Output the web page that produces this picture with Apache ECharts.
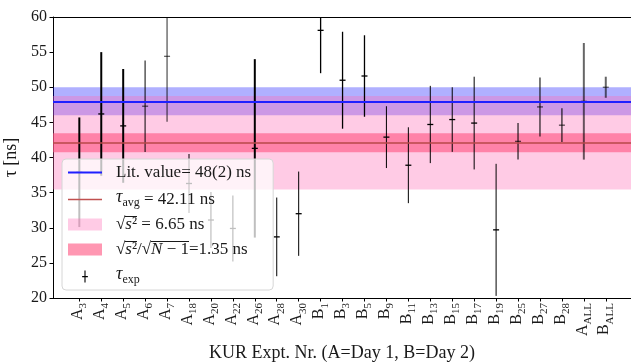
<!DOCTYPE html>
<html><head><meta charset="utf-8">
<script src="https://cdn.jsdelivr.net/npm/echarts@6/dist/echarts.min.js"></script>
<style>html,body{margin:0;padding:0;background:#fff}#c{width:631px;height:362px}</style>
</head><body><div id="c"></div>
<script>
// ---- data ----
const CATEGORIES = ['A3','A4','A5','A6','A7','A18','A20','A22','A26','A28','A30',
  'B1','B3','B5','B9','B11','B13','B15','B17','B19','B25','B27','B28','AALL','BALL'];
const TAU = [37.9, 46.2, 44.5, 47.3, 54.4, 36.3, 31.1, 29.9, 41.3, 28.7, 32.0,
  58.1, 51.0, 51.6, 42.9, 38.9, 44.7, 45.4, 44.9, 29.7, 42.3, 47.2, 44.6, 48.0, 50.0];
const TAU_ERR = [7.8, 8.8, 8.1, 6.5, 9.3, 4.2, 4.0, 4.7, 12.7, 5.6, 6.0,
  6.1, 6.9, 5.8, 4.4, 5.4, 5.5, 4.6, 6.6, 9.4, 2.6, 4.2, 2.4, 8.3, 1.5];
const LIT_VALUE = 48, LIT_ERR = 2;
const TAU_AVG = 42.11, S_DEV = 6.65, S_SEM = 1.35;
const Y_MIN = 20, Y_MAX = 60, Y_STEP = 5;

// ---- styles (per error bar) ----
const BAR_WIDTH = [2,2,2,1.6,1.4,1,1.2,1.2,2,1,1,1.3,1.3,1.3,1,1,1,1,1,1,1.6,1.6,1.6,2,2];
const BAR_OPACITY = [1,1,1,0.62,0.6,1,1,1,1,1,1,1,1,1,1,1,1,1,1,1,0.65,0.65,0.65,0.6,0.6];

const SERIF = '"Liberation Serif", "DejaVu Serif", serif';
const TXT = '#1a1a1a';

const tickIdx = CATEGORIES.map((c, i) => i);

function renderErr(params, api) {
  const i = api.value(0), y = api.value(1), e = api.value(2);
  const p = api.coord([i, y]);
  const lo = api.coord([i, y - e]);
  const hi = api.coord([i, y + e]);
  const cs = params.coordSys;
  const top = cs.y, bot = cs.y + cs.height;
  const y1 = Math.max(top, hi[1]), y2 = Math.min(bot, lo[1]);
  const k = params.dataIndex;
  const col = 'rgba(0,0,0,' + BAR_OPACITY[k] + ')';
  const ch = [{type: 'line', shape: {x1: p[0], y1: y1, x2: p[0], y2: y2},
    style: {stroke: col, lineWidth: BAR_WIDTH[k]}}];
  if (p[1] >= top && p[1] <= bot) {
    ch.push({type: 'line', shape: {x1: p[0] - 3, y1: p[1], x2: p[0] + 3, y2: p[1]},
      style: {stroke: col, lineWidth: 1.3}});
  }
  return {type: 'group', children: ch};
}

// overline image for radicals in the legend
const olCanvas = document.createElement('canvas');
olCanvas.width = 4; olCanvas.height = 36;
(function () { const g = olCanvas.getContext('2d'); g.fillStyle = '#1a1a1a'; g.fillRect(0, 0, 4, 2); })();

const LEGEND_LABELS = {
  lit: 'Lit. value= ' + LIT_VALUE + '(' + LIT_ERR + ') ns',
  avg: '{i|τ}{sub|avg} = ' + TAU_AVG.toFixed(2) + ' ns',
  sq: '{r|√}{oi|s}{o|²} = ' + S_DEV.toFixed(2) + ' ns',
  sem: '{r|√}{oi|s}{o|²}/{r|√}{oi|N}{o| − 1}=' + S_SEM.toFixed(2) + ' ns',
  exp: '{i|τ}{sub|exp}'
};

const LFS = 17;
const chart = echarts.init(document.getElementById('c'), null, {renderer: 'canvas'});
chart.setOption({
  animation: false,
  grid: {left: 53, top: 17, right: 0, bottom: 64, containLabel: false, outerBoundsMode: 'none'},
  xAxis: [{
    type: 'value', min: -1.2, max: 25.15,
    name: 'KUR Expt. Nr. (A=Day 1, B=Day 2)', nameLocation: 'middle', nameGap: 45,
    nameTextStyle: {fontFamily: SERIF, fontSize: 18, color: TXT},
    axisLine: {show: true, onZero: false, lineStyle: {color: '#000', width: 1}},
    axisTick: {show: true, customValues: tickIdx, length: 3.5, inside: false, lineStyle: {color: '#000'}},
    splitLine: {show: false},
    axisLabel: {
      customValues: tickIdx, rotate: 90, margin: 5,
      formatter: v => { const c = CATEGORIES[Math.round(v)]; return '{m|' + c[0] + '}{s|' + c.slice(1) + '}'; },
      rich: {
        m: {fontFamily: SERIF, fontSize: 16, color: TXT, verticalAlign: 'bottom', padding: [0, 0, 3, 0]},
        s: {fontFamily: SERIF, fontSize: 11, color: TXT, verticalAlign: 'bottom'}
      }
    }
  }, {
    type: 'value', position: 'top', min: -1.2, max: 25.15,
    axisLine: {show: true, onZero: false, lineStyle: {color: '#000', width: 1}},
    axisTick: {show: false}, axisLabel: {show: false}, splitLine: {show: false}
  }],
  yAxis: {
    type: 'value', min: Y_MIN, max: Y_MAX, interval: Y_STEP,
    name: 'τ [ns]', nameLocation: 'middle', nameGap: 30, nameRotate: 90,
    nameTextStyle: {fontFamily: SERIF, fontSize: 18, color: TXT},
    axisLine: {show: true, onZero: false, lineStyle: {color: '#000', width: 1}},
    axisTick: {show: true, length: 3.5, lineStyle: {color: '#000'}},
    splitLine: {show: false},
    axisLabel: {fontFamily: SERIF, fontSize: 16, color: TXT, margin: 6}
  },
  legend: {
    orient: 'vertical', left: 62, top: 159,
    padding: [4, 22, 4, 6], itemGap: 6, itemWidth: 34, itemHeight: 12,
    backgroundColor: 'rgba(255,255,255,0.75)', borderColor: '#d6d6d6', borderWidth: 1, borderRadius: 4,
    selectedMode: false,
    textStyle: {
      fontFamily: SERIF, fontSize: LFS, color: TXT, padding: [0, 0, 0, 9], lineHeight: 19,
      rich: {
        i: {fontFamily: SERIF, fontSize: LFS + 1, fontStyle: 'italic', color: TXT, verticalAlign: 'bottom', padding: [0, 0, 3, 0]},
        sub: {fontFamily: SERIF, fontSize: 12, color: TXT, verticalAlign: 'bottom'},
        r: {fontFamily: SERIF, fontSize: LFS, color: TXT, lineHeight: 19},
        oi: {fontFamily: SERIF, fontSize: LFS, fontStyle: 'italic', color: TXT, lineHeight: 19,
          backgroundColor: {image: olCanvas}},
        o: {fontFamily: SERIF, fontSize: LFS, color: TXT, lineHeight: 19,
          backgroundColor: {image: olCanvas}}
      }
    },
    formatter: name => LEGEND_LABELS[name],
    data: [
      {name: 'lit', icon: 'path://M0,0H34V2H0Z', itemStyle: {color: '#1f1fff'}},
      {name: 'avg', icon: 'path://M0,0H34V1.6H0Z', itemStyle: {color: '#c0504f'}},
      {name: 'sq', icon: 'rect', itemStyle: {color: 'rgba(255,105,180,0.35)'}},
      {name: 'sem', icon: 'rect', itemStyle: {color: 'rgba(255,81,126,0.6)'}},
      {name: 'exp', icon: 'path://M3,0H4.2V13H3Z M0.5,6H6.7V7.2H0.5Z', itemStyle: {color: '#000'}}
    ]
  },
  series: [
    {name: 'litband', type: 'line', data: [], silent: true, z: 1,
      markArea: {silent: true, itemStyle: {color: 'rgba(0,0,255,0.31)'},
        data: [[{yAxis: LIT_VALUE - LIT_ERR}, {yAxis: LIT_VALUE + LIT_ERR}]]}},
    {name: 'sq', type: 'line', data: [], silent: true, z: 1, itemStyle: {color: 'rgba(255,105,180,0.35)'},
      markArea: {silent: true, itemStyle: {color: 'rgba(255,105,180,0.35)'},
        data: [[{yAxis: TAU_AVG - S_DEV}, {yAxis: TAU_AVG + S_DEV}]]}},
    {name: 'sem', type: 'line', data: [], silent: true, z: 1, itemStyle: {color: 'rgba(255,81,126,0.6)'},
      markArea: {silent: true, itemStyle: {color: 'rgba(255,81,126,0.6)'},
        data: [[{yAxis: TAU_AVG - S_SEM}, {yAxis: TAU_AVG + S_SEM}]]}},
    {name: 'lit', type: 'line', data: [], silent: true, z: 2, itemStyle: {color: '#1f1fff'},
      markLine: {silent: true, symbol: ['none', 'none'], label: {show: false},
        lineStyle: {color: '#1f1fff', width: 2, type: 'solid'}, data: [{yAxis: LIT_VALUE}]}},
    {name: 'avg', type: 'line', data: [], silent: true, z: 2, itemStyle: {color: '#c0504f'},
      markLine: {silent: true, symbol: ['none', 'none'], label: {show: false},
        lineStyle: {color: '#b94848', width: 1.6, type: 'solid'}, data: [{yAxis: TAU_AVG}]}},
    {name: 'exp', type: 'custom', z: 3, silent: true, itemStyle: {color: '#000'},
      renderItem: renderErr,
      data: CATEGORIES.map((c, i) => [i, TAU[i], TAU_ERR[i]])}
  ]
});
</script></body></html>
